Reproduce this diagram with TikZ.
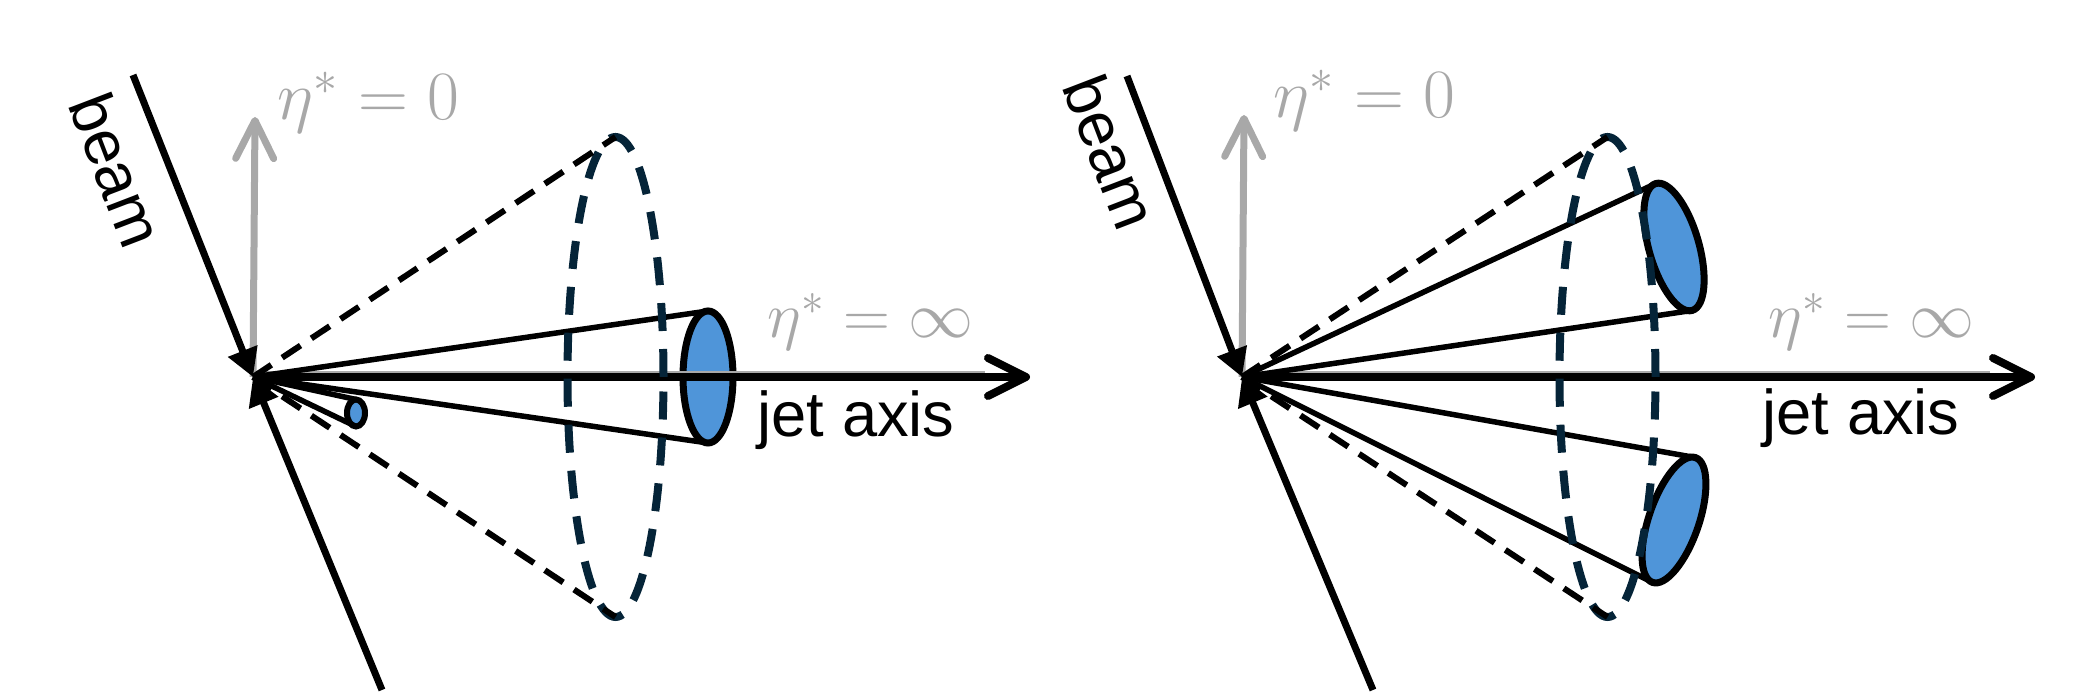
\documentclass[tikz,border=0pt]{standalone}
\usepackage{amsmath}
\usepackage{fontspec}
\setsansfont{Liberation Sans}
\usetikzlibrary{shapes.geometric, arrows.meta}
\definecolor{jetblue}{RGB}{79,149,217}
\definecolor{conenavy}{RGB}{5,36,56}
\definecolor{etagray}{RGB}{168,168,168}
\newcommand{\etatext}[2][1.14]{\scalebox{#1}{$#2$}} % grey eta labels, a bit larger than 17.28pt
\tikzset{
	beamline/.style={line width=0.07cm, -{Triangle[length=0.28cm, width=0.30cm]}}, % the two incoming beams
	jetaxis/.style={line width=0.08cm, -{Straight Barb[length=0.38cm, width=0.38cm, round]}}, % black axis with an open tip
	etaarrow/.style={etagray, line width=0.07cm, -{Straight Barb[length=0.38cm, width=0.38cm, round]}}, % grey eta = 0 axis
	etaline/.style={etagray, line width=0.04cm}, % grey eta = infinity axis under the jet axis
	solidcone/.style={line width=0.055cm}, % sides of a jet cone
	dashcone/.style={line width=0.06cm, dash pattern=on 0.22cm off 0.13cm}, % sides of the wide cone
	jetcap/.style={ellipse, draw, line width=0.07cm, fill=jetblue, inner sep=0, outer sep=0, minimum width=0.5cm, minimum height=1.32cm}, % blue end of a jet
	conering/.style={ellipse, draw=conenavy, line width=0.08cm, dash pattern=on 0.28cm off 0.18cm, inner sep=0, outer sep=0, minimum width=0.96cm, minimum height=4.8cm}, % dashed end of the wide cone
	etalabel/.style={etagray, inner sep=0, font=\fontsize{17.28}{20}\selectfont},
	textlabel/.style={inner sep=0, font=\fontsize{18}{21}\selectfont\sffamily},
}

\begin{document}
\begin{tikzpicture}
	\useasboundingbox (0,0) rectangle (20.83,6.93);
	% left: one narrow jet
	\coordinate (o1) at (2.53,3.16);
	\coordinate (e1) at (10.30,3.16);
	\coordinate (n1) at (2.55,5.76);
	\coordinate (b1) at (1.33,6.18);
	\coordinate (b2) at (3.82,0.03);
	\node[jetcap] (j1) at (7.08,3.16) {};
	\node[jetcap, line width=0.06cm, minimum width=0.18cm, minimum height=0.27cm] (s1) at (3.56,2.80) {};
	\draw[etaarrow] (o1) -- (n1);
	\draw[etaline, transform canvas={yshift=0.035cm}, shorten >=0.45cm] (o1) -- (e1);
	\draw 	(o1) edge[solidcone] (j1.north)
			(o1) edge[solidcone] (j1.south)
			(o1) edge[solidcone] (s1.north)
			(o1) edge[solidcone] (s1.south);
	\draw[jetaxis] (o1) -- (e1);
	\node[conering] (c1) at (6.155,3.16) {};
	\draw 	(o1) edge[dashcone] (c1.north)
			(o1) edge[dashcone] (c1.south);
	\draw[beamline] (b1) -- (o1);
	\draw[beamline] (b2) -- (o1);
	\node[etalabel, anchor=base west] (z1) at (2.77,5.73) {\etatext{\eta^* = 0}};
	\node[etalabel, anchor=base west] (f1) at (7.67,3.55) {\etatext[1.07]{\eta^* = \infty}};
	\node[textlabel, anchor=base west] (t1) at (7.57,2.56) {jet axis};
	\node[textlabel, rotate=-69] (r1) at (1.17,5.23) {beam};
	% right: two jets
	\coordinate (o2) at (12.42,3.16);
	\coordinate (e2) at (20.35,3.16);
	\coordinate (n2) at (12.44,5.78);
	\coordinate (b3) at (11.27,6.17);
	\coordinate (b4) at (13.73,0.03);
	\node[jetcap, rotate=16] (j2) at (16.74,4.46) {};
	\node[jetcap, rotate=-19] (j3) at (16.74,1.73) {};
	\draw[etaarrow] (o2) -- (n2);
	\draw[etaline, transform canvas={yshift=0.035cm}, shorten >=0.45cm] (o2) -- (e2);
	\draw 	(o2) edge[solidcone] (j2.north)
			(o2) edge[solidcone] (j2.south)
			(o2) edge[solidcone] (j3.north)
			(o2) edge[solidcone] (j3.south);
	\draw[jetaxis] (o2) -- (e2);
	\node[conering] (c2) at (16.075,3.16) {};
	\draw 	(o2) edge[dashcone] (c2.north)
			(o2) edge[dashcone] (c2.south);
	\draw[beamline] (b3) -- (o2);
	\draw[beamline] (b4) -- (o2);
	\node[etalabel, anchor=base west] (z2) at (12.73,5.75) {\etatext{\eta^* = 0}};
	\node[etalabel, anchor=base west] (f2) at (17.68,3.55) {\etatext[1.07]{\eta^* = \infty}};
	\node[textlabel, anchor=base west] (t2) at (17.62,2.58) {jet axis};
	\node[textlabel, rotate=-69] (r2) at (11.11,5.41) {beam};
\end{tikzpicture}
\end{document}
